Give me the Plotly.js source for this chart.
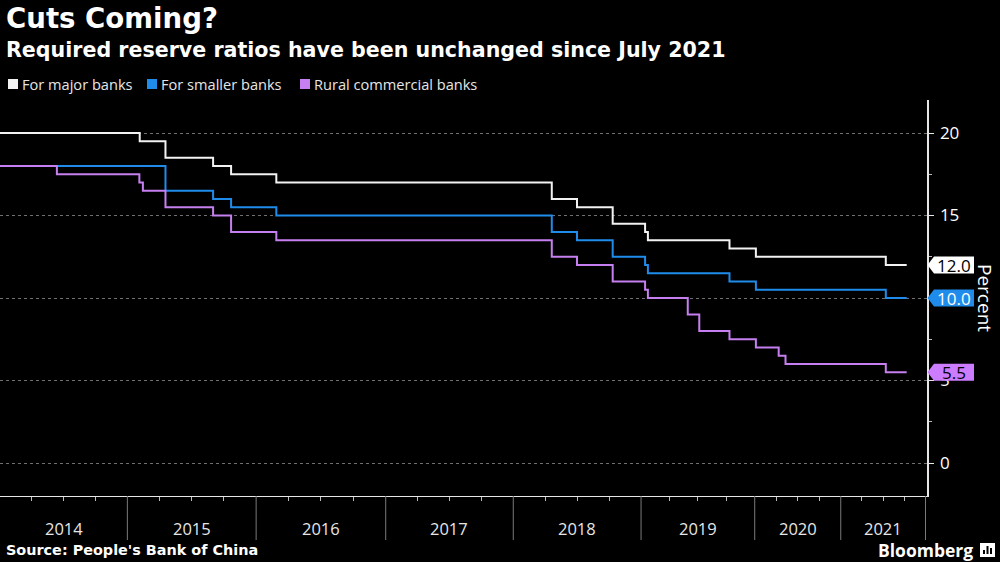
<!DOCTYPE html>
<html>
<head>
<meta charset="utf-8">
<script src="https://cdn.plot.ly/plotly-3.0.1.min.js"></script>
<style>
html,body{margin:0;padding:0;background:#000;}
#chart{width:1000px;height:562px;}
</style>
</head>
<body>
<div id="chart"></div>
<script>
// ---- data ----
const seriesNames = ['For major banks', 'For smaller banks', 'Rural commercial banks'];

const majorDates = ['2014-01-01','2015-02-05','2015-04-19','2015-09-01','2015-10-22','2016-02-27','2018-04-21','2018-07-02','2018-10-12','2019-01-14','2019-01-23','2019-10-12','2020-01-06','2021-07-14','2021-10-12'];
const majorVals  = [20.0, 19.5, 18.5, 18.0, 17.5, 17.0, 16.0, 15.5, 14.5, 14.0, 13.5, 13.0, 12.5, 12.0, 12.0];

const smallerDates = ['2014-01-01','2015-04-19','2015-09-01','2015-10-22','2016-02-27','2018-04-21','2018-07-02','2018-10-12','2019-01-14','2019-01-23','2019-10-12','2020-01-06','2021-07-14','2021-10-12'];
const smallerVals  = [18.0, 16.5, 16.0, 15.5, 15.0, 14.0, 13.5, 12.5, 12.0, 11.5, 11.0, 10.5, 10.0, 10.0];

const ruralDates = ['2014-01-01','2014-06-13','2015-02-04','2015-02-14','2015-04-19','2015-09-01','2015-10-22','2016-02-27','2018-04-21','2018-07-02','2018-10-12','2019-01-14','2019-01-23','2019-05-31','2019-07-07','2019-10-12','2020-01-06','2020-04-12','2020-05-11','2021-07-14','2021-10-12'];
const ruralVals  = [18.0, 17.5, 17.0, 16.5, 15.5, 15.0, 14.0, 13.5, 12.5, 12.0, 11.0, 10.5, 10.0, 9.0, 8.0, 7.5, 7.0, 6.5, 6.0, 5.5, 5.5];

const yearLabels = ['2014','2015','2016','2017','2018','2019','2020','2021'];
const yTicks = [0, 5, 10, 15, 20];

// ---- axis scale: the source axis gives each year its own width ----
const yearEdges = [0, 127.3, 256, 385.5, 513, 640.7, 754.3, 840.3, 925];
const firstYear = 2014;
function pos(d) {
  const p = d.split('-').map(Number);
  const y = p[0], i = y - firstYear;
  const s = Date.UTC(y, 0, 1), e = Date.UTC(y + 1, 0, 1);
  const f = (Date.UTC(y, p[1] - 1, p[2]) - s) / (e - s);
  return yearEdges[i] + f * (yearEdges[i + 1] - yearEdges[i]);
}

const colors = ['#f2f2f2', '#1f8ceb', '#c67ff0'];
const tagColors = ['#ffffff', '#1f8ceb', '#cc7cff'];
const tagText = ['#000000', '#ffffff', '#000000'];

const W = 1000, H = 562;
const M = {l: 0, r: 73, t: 100, b: 66};
const PW = W - M.l - M.r, PH = H - M.t - M.b;
const px = v => (v - M.l) / PW;       // pixel x -> paper
const py = v => (H - M.b - v) / PH;   // pixel y -> paper

const allDates = [majorDates, smallerDates, ruralDates];
const allVals = [majorVals, smallerVals, ruralVals];

const traces = allDates.map((ds, k) => ({
  type: 'scatter', mode: 'lines',
  x: ds.map(pos), y: allVals[k],
  line: {shape: 'hv', color: colors[k], width: 2},
  name: seriesNames[k], hoverinfo: 'skip', showlegend: false
}));

// quarter ticks
const qTicks = [];
for (let i = 0; i < yearLabels.length; i++) {
  for (let q = 1; q < 4; q++) qTicks.push(yearEdges[i] + q / 4 * (yearEdges[i + 1] - yearEdges[i]));
}

const shapes = [];
const annotations = [];

// year separators and labels
for (let i = 1; i < yearEdges.length; i++) {
  shapes.push({type: 'line', xref: 'x', yref: 'paper', x0: yearEdges[i], x1: yearEdges[i], y0: 0, y1: py(540), line: {color: '#7a7a7a', width: 1}});
}
yearLabels.forEach((t, i) => {
  annotations.push({xref: 'x', yref: 'paper', x: (yearEdges[i] + yearEdges[i + 1]) / 2, y: py(528), text: t, showarrow: false,
    xanchor: 'center', yanchor: 'middle', font: {family: 'Open Sans, sans-serif', size: 16.5, color: '#e6e6e6'}});
});

// end value tags
allVals.forEach((vals, k) => {
  const v = vals[vals.length - 1];
  const h = 0.52, x0 = px(927.5), x1 = px(934), x2 = px(974);
  shapes.push({type: 'path', xref: 'paper', yref: 'y',
    path: `M ${x0},${v} L ${x1},${v + h} L ${x2},${v + h} L ${x2},${v - h} L ${x1},${v - h} Z`,
    fillcolor: tagColors[k], line: {width: 0}, layer: 'above'});
  annotations.push({xref: 'paper', yref: 'y', x: px(953.5), y: v, text: v.toFixed(1), showarrow: false,
    xanchor: 'center', yanchor: 'middle', font: {family: 'Open Sans, sans-serif', size: 17, color: tagText[k]}});
});

// legend
const legendX = [8, 147, 300];
seriesNames.forEach((n, k) => {
  shapes.push({type: 'rect', xref: 'paper', yref: 'paper', x0: px(legendX[k]), x1: px(legendX[k] + 10), y0: py(89), y1: py(79), fillcolor: colors[k], line: {width: 0}});
  annotations.push({xref: 'paper', yref: 'paper', x: px(legendX[k] + 12), y: py(84), text: n, showarrow: false,
    xanchor: 'left', yanchor: 'middle', font: {family: 'Open Sans, sans-serif', size: 14.6, color: '#e6e6e6'}});
});

// Percent label
annotations.push({xref: 'paper', yref: 'paper', x: px(985), y: py(298), text: 'Percent', textangle: 90, showarrow: false,
  xanchor: 'center', yanchor: 'middle', borderpad: 0, font: {family: 'Open Sans, sans-serif', size: 19, color: '#ffffff'}});

// titles and footer
annotations.push({xref: 'paper', yref: 'paper', x: px(4), y: py(19), text: '<b>Cuts Coming?</b>', showarrow: false,
  xanchor: 'left', yanchor: 'middle', font: {family: 'DejaVu Sans, sans-serif', size: 27.6, color: '#ffffff'}});
annotations.push({xref: 'paper', yref: 'paper', x: px(4), y: py(50), text: '<b>Required reserve ratios have been unchanged since July 2021</b>', showarrow: false,
  xanchor: 'left', yanchor: 'middle', font: {family: 'DejaVu Sans, sans-serif', size: 20.6, color: '#ffffff'}});
annotations.push({xref: 'paper', yref: 'paper', x: px(4), y: py(550), text: "<b>Source: People's Bank of China</b>", showarrow: false,
  xanchor: 'left', yanchor: 'middle', font: {family: 'DejaVu Sans, sans-serif', size: 14.4, color: '#ffffff'}});
annotations.push({xref: 'paper', yref: 'paper', x: px(974), y: py(549.5), text: '<b>Bloomberg</b>', showarrow: false,
  xanchor: 'right', yanchor: 'middle', borderpad: 0, font: {family: 'Open Sans, sans-serif', size: 17.5, color: '#ffffff'}});
// small logo
shapes.push({type: 'rect', xref: 'paper', yref: 'paper', x0: px(980), x1: px(995), y0: py(557), y1: py(543), fillcolor: '#ffffff', line: {width: 0}});
[983, 986.5, 990].forEach((bx, i) => {
  shapes.push({type: 'rect', xref: 'paper', yref: 'paper', x0: px(bx), x1: px(bx + 2), y0: py(554), y1: py(554 - [4, 8, 6][i]), fillcolor: '#000000', line: {width: 0}});
});

const layout = {
  width: W, height: H,
  margin: M,
  paper_bgcolor: '#000000', plot_bgcolor: '#000000',
  showlegend: false,
  xaxis: {
    type: 'linear', range: [0, 926.5], fixedrange: true,
    showgrid: false, zeroline: false,
    showline: true, linecolor: '#e6e6e6', linewidth: 1,
    tickmode: 'array', tickvals: qTicks, ticks: 'outside', ticklen: 4, tickcolor: '#bdbdbd', tickwidth: 1,
    showticklabels: false
  },
  yaxis: {
    side: 'right', range: [-2, 22], fixedrange: true,
    tickmode: 'array', tickvals: yTicks, ticktext: yTicks.map(String),
    ticks: 'outside', ticklen: 5, tickcolor: '#e6e6e6', tickwidth: 1,
    minor: {dtick: 2.5, ticks: 'outside', ticklen: 3, tickcolor: '#bdbdbd', showgrid: false},
    showline: true, linecolor: '#e6e6e6', linewidth: 1.5,
    showgrid: true, gridcolor: '#707070', griddash: 'dot', gridwidth: 1,
    zeroline: false,
    tickfont: {family: 'Open Sans, sans-serif', size: 17, color: '#ffffff'},
    ticklabelstandoff: 3
  },
  shapes: shapes,
  annotations: annotations
};

Plotly.newPlot('chart', traces, layout, {displayModeBar: false, staticPlot: true});
</script>
</body>
</html>
